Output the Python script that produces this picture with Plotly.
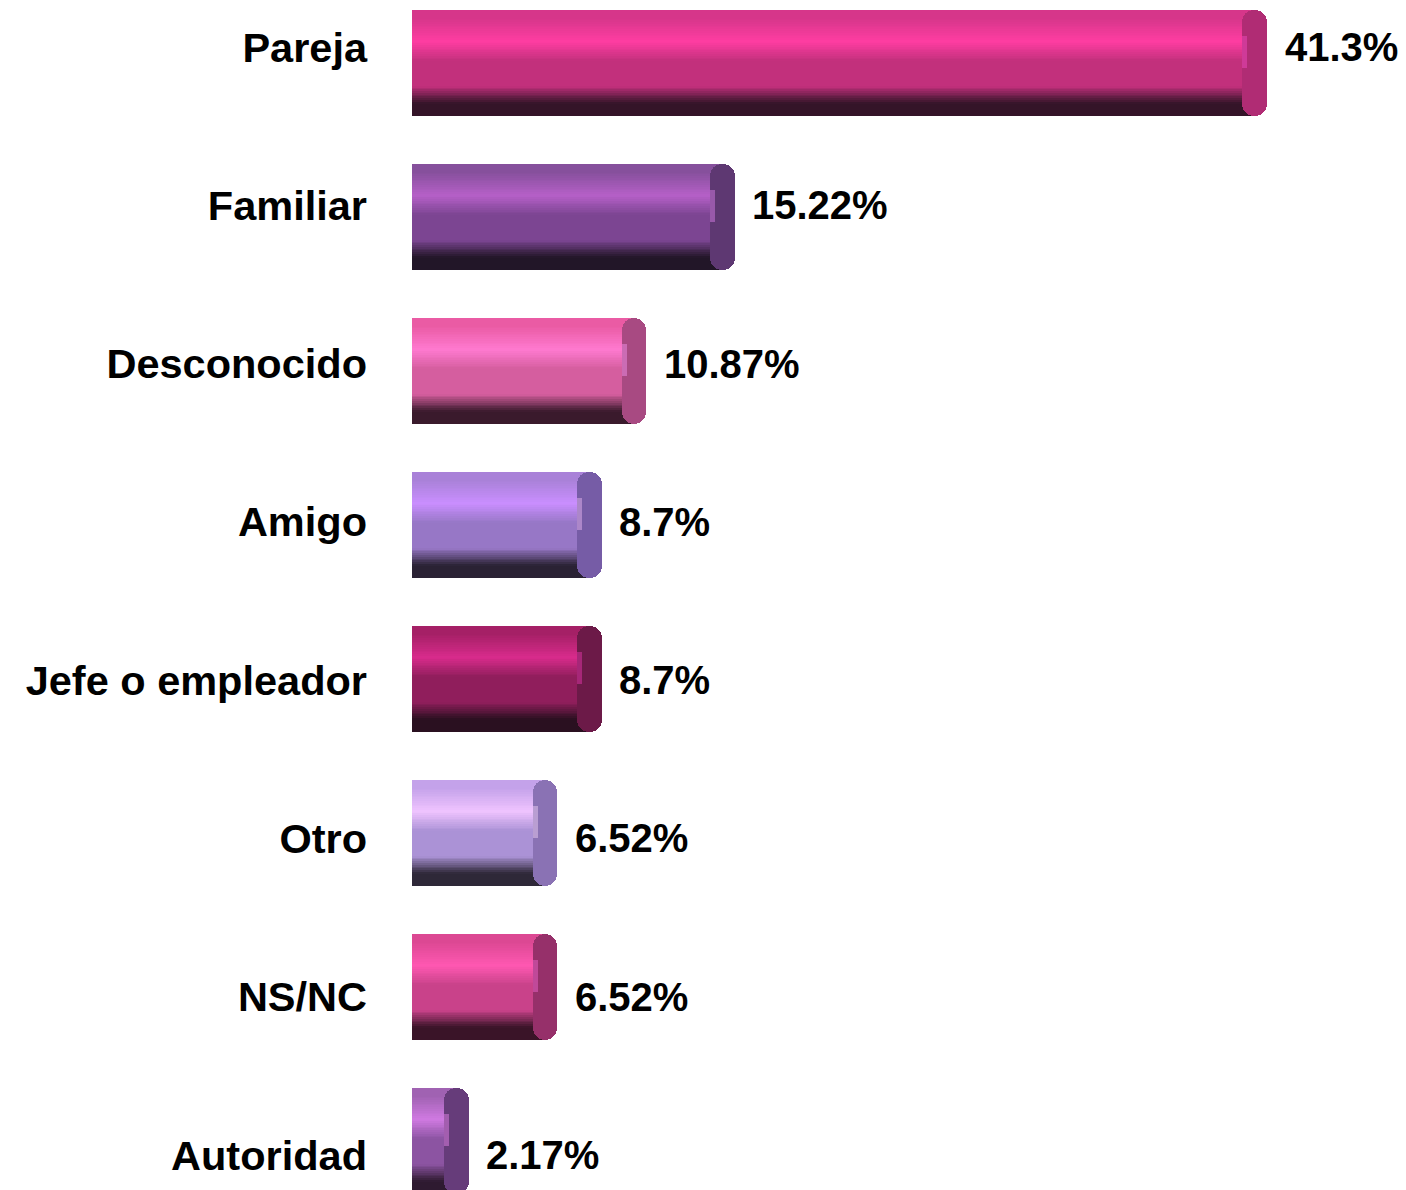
import plotly.graph_objects as go

# ---------------- data ----------------
categories = ["Pareja", "Familiar", "Desconocido", "Amigo", "Jefe o empleador",
              "Otro", "NS/NC", "Autoridad"]
values = [41.3, 15.22, 10.87, 8.7, 8.7, 6.52, 6.52, 2.17]
value_labels = ["41.3%", "15.22%", "10.87%", "8.7%", "8.7%", "6.52%", "6.52%", "2.17%"]

# ---------------- style ----------------
top_c = ["#d6368a", "#86509c", "#ea5ba4", "#a981d8", "#a52066", "#c4a2ea", "#dc4893", "#a062b2"]
hi_c = ["#ff3da2", "#b660c8", "#ff7ad0", "#ca8eff", "#d92b8c", "#f0c4ff", "#ff58b2", "#d07ae2"]
mid_c = ["#c2307c", "#7c4592", "#d55e9f", "#9777c6", "#901e5c", "#ab92d6", "#c9428a", "#8c54a2"]
dark_c = ["#341428", "#221628", "#3a1a2c", "#2a2234", "#2a1020", "#2e2838", "#3a1428", "#2e1a30"]
cap_c = ["#b02c74", "#5e3872", "#a84a82", "#765ca6", "#6c1a48", "#8a72b4", "#96306a", "#663c7a"]
spec_c = ["#ff50d0", "#f08cff", "#ffa0ff", "#ffc8ff", "#ff3cc0", "#ffe0ff", "#ff70e0", "#ff90ff"]

FONT = "Liberation Sans, Arial, Helvetica, sans-serif"
BAR_W = 0.69
N_BANDS = 60
CAP_HALF = 0.6


def h2r(h):
    h = h.lstrip("#")
    return tuple(int(h[i:i + 2], 16) for i in (0, 2, 4))


def mix(a, b, f):
    ra, rb = h2r(a), h2r(b)
    return "rgb(%d,%d,%d)" % tuple(round(ra[i] + (rb[i] - ra[i]) * f) for i in range(3))


def profile(k, t):
    stops = [(0.0, top_c[k]), (0.08, top_c[k]), (0.3, hi_c[k]), (0.48, mid_c[k]),
             (0.72, mid_c[k]), (0.88, dark_c[k]), (1.0, dark_c[k])]
    for j in range(len(stops) - 1):
        t0, c0 = stops[j]
        t1, c1 = stops[j + 1]
        if t0 <= t <= t1:
            f = 0 if t1 == t0 else (t - t0) / (t1 - t0)
            return mix(c0, c1, f)
    return mix(stops[-1][1], stops[-1][1], 0)


fig = go.Figure()

h = BAR_W / N_BANDS
for i in range(N_BANDS):
    t = (i + 0.5) / N_BANDS
    cols = [profile(k, t) for k in range(len(categories))]
    fig.add_trace(go.Bar(
        x=values, y=categories, base=0, orientation="h",
        width=h * (2.0 if i < N_BANDS - 1 else 1.0),
        offset=-BAR_W / 2 + i * h,
        marker=dict(color=cols, line=dict(width=0)),
        hoverinfo="skip", showlegend=False,
    ))

# rounded end cap
fig.add_trace(go.Bar(
    x=[2 * CAP_HALF for _ in values], y=categories,
    base=[v - CAP_HALF for v in values], orientation="h",
    width=BAR_W, offset=-BAR_W / 2,
    marker=dict(color=cap_c, line=dict(width=0), cornerradius=12),
    hoverinfo="skip", showlegend=False,
))
# specular highlight on cap
fig.add_trace(go.Bar(
    x=[0.25 for _ in values], y=categories,
    base=[v - CAP_HALF for v in values], orientation="h",
    width=BAR_W * 0.3, offset=-BAR_W * 0.25,
    marker=dict(color=spec_c, line=dict(width=0), opacity=0.4),
    hoverinfo="skip", showlegend=False,
))

# label axis (y2) carrying category names and value labels
fig.add_trace(go.Scatter(
    x=values, y=categories, yaxis="y2", mode="markers",
    marker=dict(opacity=0), hoverinfo="skip", showlegend=False,
))

for v, c, lab in zip(values, categories, value_labels):
    fig.add_annotation(
        x=v, y=c, xref="x", yref="y2", text=lab, showarrow=False,
        xanchor="left", yanchor="middle", xshift=28,
        font=dict(family=FONT, size=40, color="#000000", weight="bold"),
    )

fig.update_layout(
    width=1406, height=1190,
    margin=dict(l=412, r=0, t=0, b=0),
    paper_bgcolor="white", plot_bgcolor="white",
    barmode="overlay", bargap=0,
    showlegend=False,
    xaxis=dict(range=[0, 994 / 20.4], visible=False, fixedrange=True),
    yaxis=dict(type="category", categoryorder="array", categoryarray=categories,
               range=[7.319, -0.408], visible=False),
    yaxis2=dict(type="category", categoryorder="array", categoryarray=categories,
                range=[7.221, -0.297], overlaying="y", side="left", anchor="x",
                showgrid=False, zeroline=False, showline=False, ticks="",
                ticklabelstandoff=44,
                tickfont=dict(family=FONT, size=41.5, color="#000000", weight="bold")),
)

fig.write_html("out.html", config={"displayModeBar": False},
               post_script="document.body.style.margin='0';")
